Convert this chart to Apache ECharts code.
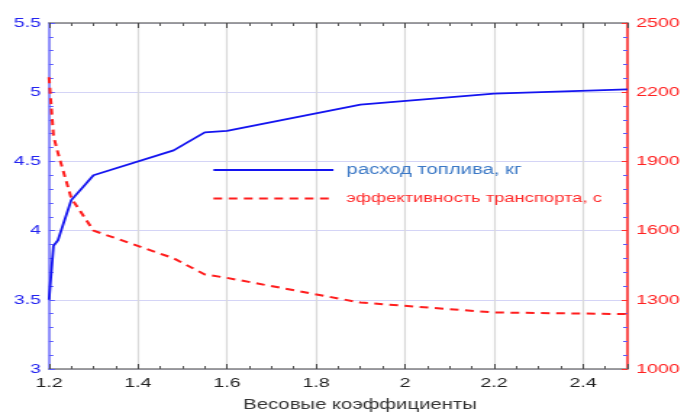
<!DOCTYPE html>
<html>
<head>
<meta charset="utf-8">
<script src="https://cdn.jsdelivr.net/npm/echarts@6/dist/echarts.min.js"></script>
<style>
html,body{margin:0;padding:0;background:#fff;overflow:hidden;width:684px;height:417px;}
#wrap{position:fixed;left:0;top:0;width:684px;height:417px;overflow:hidden;}
#c{position:absolute;left:0;top:0;width:472px;height:417px;transform:scaleX(1.449153);transform-origin:0 0;}
</style>
</head>
<body>
<div id="wrap"><div id="c"></div></div>
<script>
// ---- data ----
const weights = [1.2, 1.21, 1.22, 1.25, 1.3, 1.48, 1.55, 1.6, 1.9, 2.2, 2.5];
const fuel = [3.5, 3.89, 3.93, 4.22, 4.40, 4.58, 4.71, 4.72, 4.91, 4.99, 5.02];
const efficiency = [2265, 2010, 1937, 1741, 1600, 1480, 1410, 1395, 1288, 1245, 1238];
const fuelName = 'расход топлива, кг';
const effName = 'эффективность транспорта, с';
const xTitle = 'Весовые коэффициенты';

const S = 684 / 472; // horizontal stretch of the reference
const px = v => v / S;

const chart = echarts.init(document.getElementById('c'));
const font = 'Liberation Sans, Arial, sans-serif';

const xBase = {
  type: 'value', min: 1.2, max: 2.5, interval: 0.2,
  minorTick: {show: true, splitNumber: 4, length: 3, lineStyle: {color: '#555'}},
  axisTick: {show: true, inside: true, length: 5, lineStyle: {color: '#444'}},
  axisLine: {show: true, lineStyle: {color: '#808080', width: 1.5}},
};

chart.setOption({
  animation: false,
  backgroundColor: '#fff',
  textStyle: {fontFamily: font},
  grid: {left: px(49), right: px(684 - 631), top: 23, bottom: 41, containLabel: false},
  legend: {
    orient: 'vertical', left: px(212) - 5, top: 158,
    itemWidth: px(120), itemHeight: 14, itemGap: 15,
    itemStyle: {opacity: 0},
    data: [
      {name: fuelName, textStyle: {color: '#3b78c6', fontSize: 14}},
      {name: effName, textStyle: {color: '#ff2a2a', fontSize: 12.7}}
    ],
    textStyle: {fontSize: 14, fontFamily: font, padding: [0, 0, 0, 4]}
  },
  xAxis: [
    Object.assign({}, xBase, {
      position: 'bottom',
      axisLabel: {color: '#222', fontSize: 13.5, margin: 7, showMaxLabel: false, fontFamily: font},
      splitLine: {show: true, lineStyle: {color: '#d9d9d9', width: 1.2}},
      name: xTitle, nameLocation: 'middle', nameGap: 29,
      nameTextStyle: {color: '#333', fontSize: 14, fontFamily: font, padding: [0, 0, 0, 30]}
    }),
    Object.assign({}, xBase, {
      position: 'top', axisLabel: {show: false}, splitLine: {show: false}
    })
  ],
  yAxis: [
    {
      type: 'value', position: 'left', min: 3, max: 5.5, interval: 0.5,
      axisLine: {show: true, lineStyle: {color: '#7373ff', width: 1.5}},
      axisTick: {show: true, inside: true, length: 4, lineStyle: {color: '#5a5aff'}},
      minorTick: {show: true, splitNumber: 5, length: 3, lineStyle: {color: '#5a5aff'}},
      axisLabel: {color: '#2424f0', fontSize: 13.5, margin: 5.5, fontFamily: font},
      splitLine: {show: true, lineStyle: {color: '#d4d4f6', width: 1}}
    },
    {
      type: 'value', position: 'right', min: 1000, max: 2500, interval: 300,
      axisLine: {show: true, lineStyle: {color: '#ff2020', width: 1.5}},
      axisTick: {show: true, inside: true, length: 4, lineStyle: {color: '#ff3030'}},
      minorTick: {show: true, splitNumber: 5, length: 3, lineStyle: {color: '#5a5aff'}},
      axisLabel: {color: '#ff2020', fontSize: 13.5, margin: 6, fontFamily: font, formatter: v => String(v)},
      splitLine: {show: false}
    }
  ],
  series: [
    {
      name: fuelName, type: 'line', xAxisIndex: 0, yAxisIndex: 0,
      symbol: 'none', showSymbol: false,
      data: weights.map((w, i) => [w, fuel[i]]),
      lineStyle: {color: '#1414f0', width: 1.8},
      itemStyle: {color: '#1414f0'},
      z: 3
    },
    {
      name: effName, type: 'line', xAxisIndex: 0, yAxisIndex: 1,
      symbol: 'none', showSymbol: false,
      data: weights.map((w, i) => [w, efficiency[i]]),
      lineStyle: {color: '#ff1e1e', width: 2, type: [6, 4.5]},
      itemStyle: {color: '#ff1e1e'},
      z: 2
    }
  ]
});
</script>
</body>
</html>
